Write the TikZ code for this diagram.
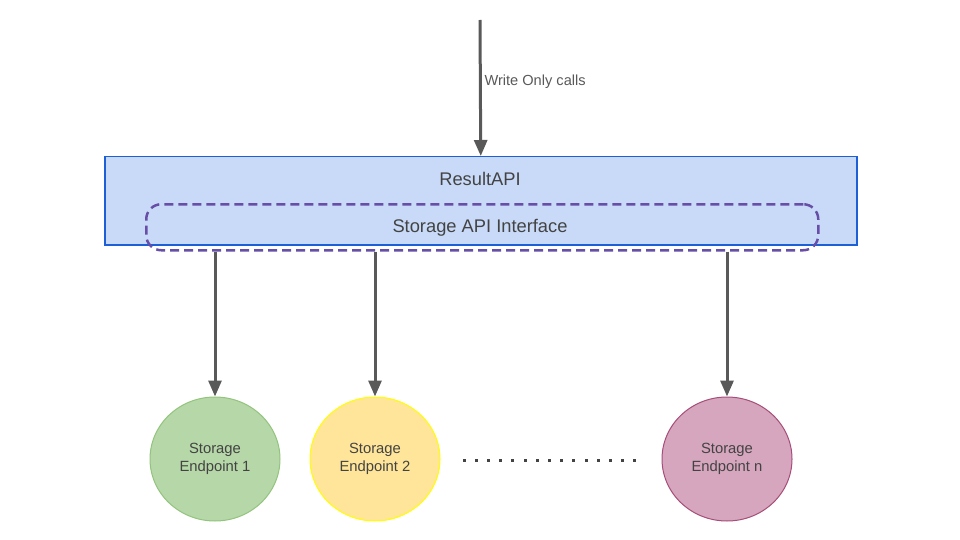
\documentclass[tikz,border=0pt]{standalone}
\usepackage{fontspec}
\setmainfont{Liberation Sans}
\usetikzlibrary{arrows.meta,shapes.geometric,calc}
\definecolor{boxfill}{HTML}{C9DAF8}
\definecolor{boxline}{HTML}{1C5FD6}
\definecolor{ifline}{HTML}{674EA7}
\definecolor{arrowc}{HTML}{595959}
\definecolor{txt}{HTML}{434343}
\definecolor{gfill}{HTML}{B6D7A8}
\definecolor{gline}{HTML}{93C47D}
\definecolor{yfill}{HTML}{FFE599}
\definecolor{yline}{HTML}{FFFF00}
\definecolor{pfill}{HTML}{D5A6BD}
\definecolor{pline}{HTML}{A64D79}
\tikzset{
  conn/.style={draw=arrowc, line width=3pt, -{Triangle[length=16pt,width=13pt]}},
  endpt/.style={ellipse, minimum width=130pt, minimum height=124pt, line width=1pt, inner sep=0pt, align=center, text=txt, font=\fontsize{14.8pt}{17.5pt}\selectfont},
}
\begin{document}
\begin{tikzpicture}[x=1pt,y=-1pt]
\useasboundingbox (0,0) rectangle (960,540);
\node[draw=boxline, fill=boxfill, line width=1.5pt, minimum width=752pt, minimum height=88pt, inner sep=0pt, anchor=north west] (main) at (104,156) {};
\node[text=txt, font=\fontsize{18.3pt}{21pt}\selectfont] (mainlbl) at (480,179) {ResultAPI};
\node[draw=ifline, dashed, dash pattern=on 9pt off 5pt, line width=2.5pt, rounded corners=15pt, minimum width=672pt, minimum height=46pt, inner sep=0pt, anchor=north west] (iface) at (145,203) {};
\node[text=txt, font=\fontsize{18.3pt}{21pt}\selectfont] (iflbl) at (480,228) {Storage API Interface};
\coordinate (src) at (480,20);
\draw[conn] (src) -- (main.north);
\node[text=arrowc, font=\fontsize{14.6pt}{17pt}\selectfont, anchor=west] (wlbl) at (481,82) {Write Only calls};
\node[endpt, fill=gfill, draw=gline] (e1) at (215,459) {Storage\\Endpoint 1};
\node[endpt, fill=yfill, draw=yline] (e2) at (375,459) {Storage\\Endpoint 2};
\node[endpt, fill=pfill, draw=pline] (en) at (727,459) {Storage\\Endpoint n};
\draw[conn] (e1 |- iface.south) -- (e1.north);
\draw[conn] (e2 |- iface.south) -- (e2.north);
\draw[conn] (en |- iface.south) -- (en.north);
\foreach \i in {0,...,14} {
  \fill[txt] ({464+\i*12.2-1.5},458.5) rectangle ++(3,3);
}
\end{tikzpicture}
\end{document}
